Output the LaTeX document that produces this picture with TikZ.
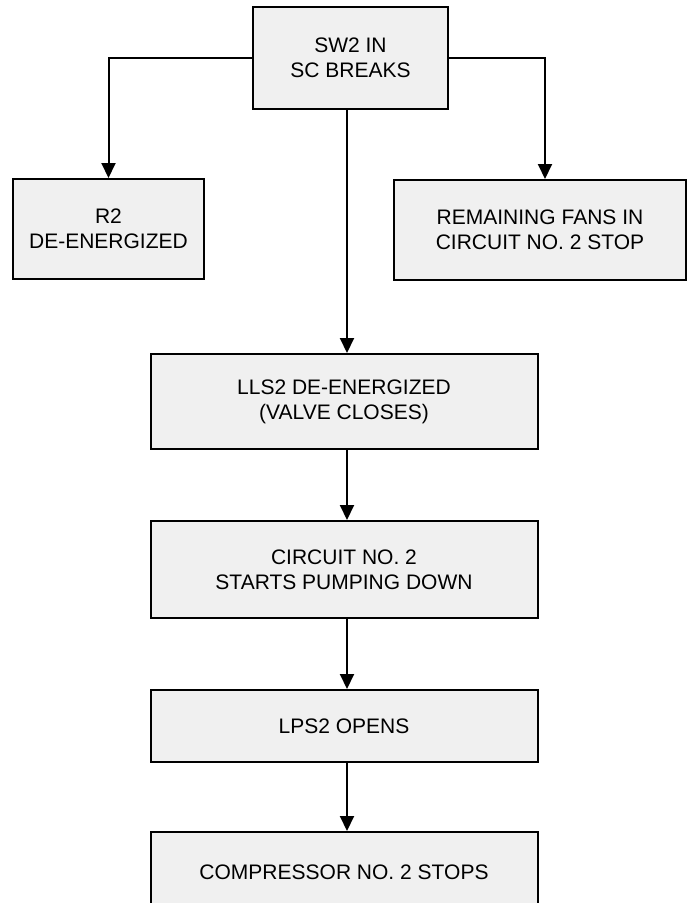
\documentclass[tikz,border=0pt]{standalone}
\usepackage{fontspec}
\setmainfont{Liberation Sans}
\usetikzlibrary{arrows.meta}

\tikzset{
    box/.style={draw, line width=2pt, fill=black!6, align=center,
        font=\fontsize{21}{25}\selectfont},
    flow/.style={line width=2pt, -{Triangle[width=14pt,length=15pt]}}
}

\begin{document}
\begin{tikzpicture}[x=1pt, y=-1pt]
    \useasboundingbox (0, 0) rectangle (692, 903);
    \clip (0, 0) rectangle (692, 903);

    % Top row nodes
    \path
    (350.5, 58) node[box, minimum width=195, minimum height=102] (A) {SW2 IN\\SC BREAKS}
    (108.5, 229) node[box, minimum width=191, minimum height=100] (B) {R2\\DE-ENERGIZED}
    (540, 230) node[box, minimum width=292, minimum height=100] (C) {REMAINING FANS IN\\CIRCUIT NO. 2 STOP}
    ;

    % Middle column nodes
    \path
    (344, 401.5) node[box, minimum width=387, minimum height=95] (D) {LLS2 DE-ENERGIZED\\(VALVE CLOSES)}
    (344, 569.5) node[box, minimum width=387, minimum height=97] (E) {CIRCUIT NO. 2\\STARTS PUMPING DOWN}
    (344, 726) node[box, minimum width=387, minimum height=72] (F) {LPS2 OPENS}
    (344, 872) node[box, minimum width=387, minimum height=80] (G) {COMPRESSOR NO. 2 STOPS}
    ;

    % Branch edges
    \draw[flow] (A.west) -| (B.north);
    \draw[flow] (A.east) -| ([xshift=5pt]C.north);
    \draw[flow] ([xshift=3pt]A.south -| D.north) -- ([xshift=3pt]D.north);

    % Chain edges
    \draw[flow] ([xshift=3pt]D.south) -- ([xshift=3pt]E.north);
    \draw[flow] ([xshift=3pt]E.south) -- ([xshift=3pt]F.north);
    \draw[flow] ([xshift=3pt]F.south) -- ([xshift=3pt]G.north);

\end{tikzpicture}
\end{document}
